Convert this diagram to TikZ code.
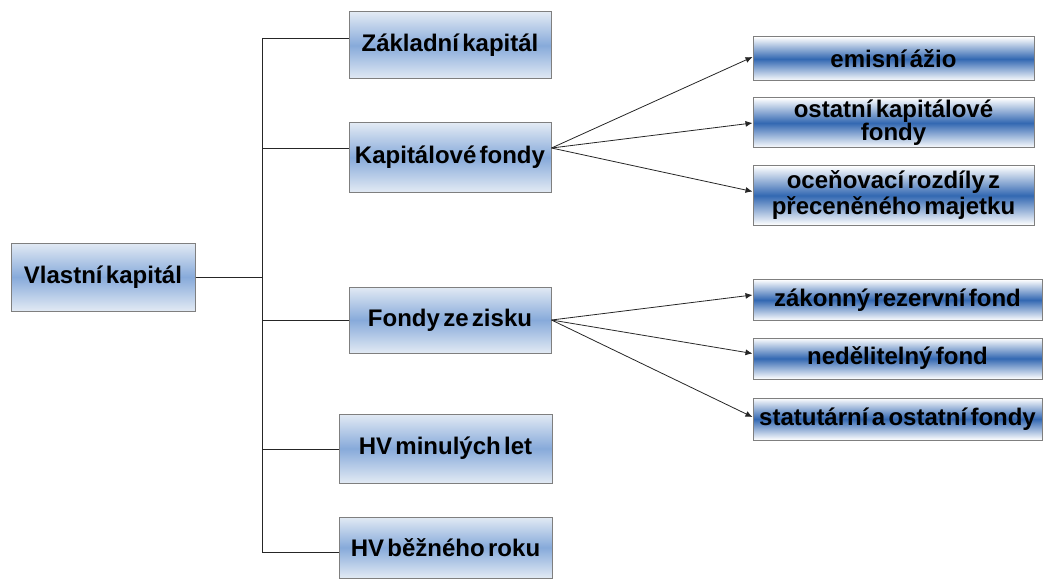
\documentclass[tikz,border=0pt]{standalone}
\usepackage{fontspec}
\setmainfont[WordSpace=0.5]{Liberation Sans}
\usetikzlibrary{arrows.meta}
\definecolor{lbTop}{HTML}{E2EAF4}
\definecolor{lbMid}{HTML}{87AADA}
\definecolor{rbMid}{HTML}{3368B2}
\definecolor{edgegray}{HTML}{7F7F7F}
\begin{document}
\begin{tikzpicture}[x=1pt,y=-1pt,
  lbox/.style={draw=edgegray, line width=1pt, top color=lbTop, bottom color=lbTop, middle color=lbMid,
    font=\fontsize{24}{25}\selectfont\bfseries, align=center, inner sep=0pt},
  rbox/.style={draw=edgegray, line width=1pt, top color=white, bottom color=white, middle color=rbMid,
    font=\fontsize{24}{25}\selectfont\bfseries, align=center, inner sep=0pt},
  conn/.style={draw=black!85, line width=0.8pt},
  arr/.style={conn, -{Latex[length=7pt,width=6pt]}}]
\useasboundingbox (0,0) rectangle (1043,580);
% left column
\node[lbox, minimum width=184pt, minimum height=68pt] (vk) at (103,277) {Vlastní kapitál};
% middle column
\node[lbox, minimum width=202pt, minimum height=67pt] (zk) at (450,45.5) {Základní kapitál};
\node[lbox, minimum width=202pt, minimum height=69pt] (kf) at (450,157.5) {Kapitálové fondy};
\node[lbox, minimum width=202pt, minimum height=66pt] (fz) at (450,320) {Fondy ze zisku};
\node[lbox, minimum width=213pt, minimum height=69pt] (hvm) at (445.5,448.5) {HV minulých let};
\node[lbox, minimum width=213pt, minimum height=61pt] (hvb) at (445.5,547.5) {HV běžného roku};
% right column
\node[rbox, minimum width=281pt, minimum height=44pt] (ea) at (893.5,59) {emisní ážio};
\node[rbox, minimum width=281pt, minimum height=50pt, font=\fontsize{24}{22}\selectfont\bfseries] (okf) at (893.5,123) {ostatní kapitálové\\fondy};
\node[rbox, minimum width=281pt, minimum height=59pt, font=\fontsize{24}{26}\selectfont\bfseries] (ocr) at (893.5,195.5) {oceňovací rozdíly z\\přeceněného majetku};
\node[rbox, minimum width=289pt, minimum height=41pt] (zrf) at (897.5,300) {zákonný rezervní fond};
\node[rbox, minimum width=289pt, minimum height=41pt] (nf) at (897.5,358.5) {nedělitelný fond};
\node[rbox, minimum width=289pt, minimum height=42pt] (sof) at (897.5,419) {statutární a ostatní fondy};
% trunk
\coordinate (b1) at (262,38);
\coordinate (b2) at (262,148);
\coordinate (b3) at (262,320);
\coordinate (b4) at (262,449);
\coordinate (b5) at (262,552);
\draw[conn] (b1) -- (b5);
\draw[conn] (vk.east) -- (vk.east -| b1);
\draw[conn] (b1) -- (b1 -| zk.west);
\draw[conn] (b2) -- (b2 -| kf.west);
\draw[conn] (b3) -- (b3 -| fz.west);
\draw[conn] (b4) -- (b4 -| hvm.west);
\draw[conn] (b5) -- (b5 -| hvb.west);
% arrows
\coordinate (kfo) at (kf.east |- b2);
\draw[arr] (kfo) -- ([yshift=2pt]ea.west);
\draw[arr] (kfo) -- (okf.west);
\draw[arr] (kfo) -- ([yshift=4pt]ocr.west);
\draw[arr] (fz.east) -- ([yshift=5pt]zrf.west);
\draw[arr] (fz.east) -- ([yshift=5pt]nf.west);
\draw[arr] (fz.east) -- ([yshift=2pt]sof.west);
\end{tikzpicture}
\end{document}
